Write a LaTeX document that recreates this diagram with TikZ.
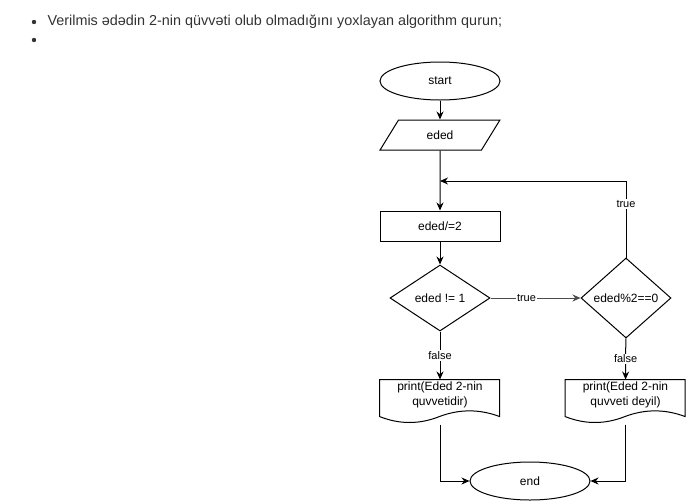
\documentclass[tikz,border=0pt]{standalone}
\usepackage{fontspec}
\setmainfont{Liberation Sans}
\usetikzlibrary{shapes.geometric,arrows.meta}

\begin{document}
\begin{tikzpicture}[x=1pt,y=-1pt,line width=1pt,
    font=\fontsize{12}{14}\selectfont,
    term/.style={draw,ellipse,minimum width=120pt,minimum height=38pt,inner sep=0pt},
    io/.style={draw,trapezium,trapezium left angle=56,trapezium right angle=124,
      trapezium stretches=true,minimum width=120pt,minimum height=30pt,inner sep=0pt},
    proc/.style={draw,rectangle,minimum width=120pt,minimum height=30pt},
    cond/.style={draw,diamond,inner sep=0pt},
    doc/.style={minimum width=120pt,minimum height=30pt,align=center,inner sep=0pt,
      font=\fontsize{12}{15}\selectfont},
    flow/.style={-{Stealth[length=8pt,width=7pt]}},
    tag/.style={fill=white,inner sep=1pt,font=\fontsize{11}{12}\selectfont}]
    \useasboundingbox (0,0) rectangle (686,501);

    % task text
    \foreach \y in {22,40}
        \fill[black!80] (34,\y) circle (2.2);
    \node[anchor=west,inner sep=0pt,text=black!80,font=\fontsize{14.4}{16}\selectfont] (task) at (47,22)
        {Verilmis ədədin 2-nin qüvvəti olub olmadığını yoxlayan algorithm qurun;};

    % flowchart
    \node[term] (start) at (440,81) {start};
    \node[io] (num) at (440,135) {eded};
    \node[proc] (div) at (440,226) {eded/=2};
    \node[cond,minimum width=100pt,minimum height=66pt] (one) at (440,298) {eded != 1};
    \node[cond,minimum width=90pt,minimum height=80pt] (even) at (626,298) {eded\%2==0};
    \node[doc] (yes) at (440,395) {print(Eded 2-nin\\quvvetidir)};
    \node[doc] (no) at (625.5,395) {print(Eded 2-nin\\quvveti deyil)};
    \node[term] (end) at (530,481) {end};

    \foreach \d in {yes,no}
        \draw[shift={(\d.north west)}] (0,0) -- (120,0) -- (120,37)
            .. controls (100,29.5) and (80,29.5) .. (60,37)
            .. controls (40,45) and (20,45) .. (0,37) -- cycle;

    \coordinate (loop) at (440,181);
    \coordinate (yesout) at ([yshift=-14pt]yes.south);
    \coordinate (noout) at ([yshift=-14pt]no.south);

    \draw[flow] (start) -- (num);
    \draw[flow] (num) -- (div);
    \draw[flow] (div) -- (one);
    \draw[flow,black!70] (one) -- node[tag,text=black,pos=0.4] {true} (even);
    \draw[flow] (one) -- node[tag] {false} (yes);
    \draw[flow] (even) -- node[tag] {false} (no);
    \draw[flow] (even.north) |- node[tag,pos=0.35] {true} (loop);
    \draw[flow] (yesout) |- (end.west);
    \draw[flow] (noout) |- (end.east);
\end{tikzpicture}
\end{document}
